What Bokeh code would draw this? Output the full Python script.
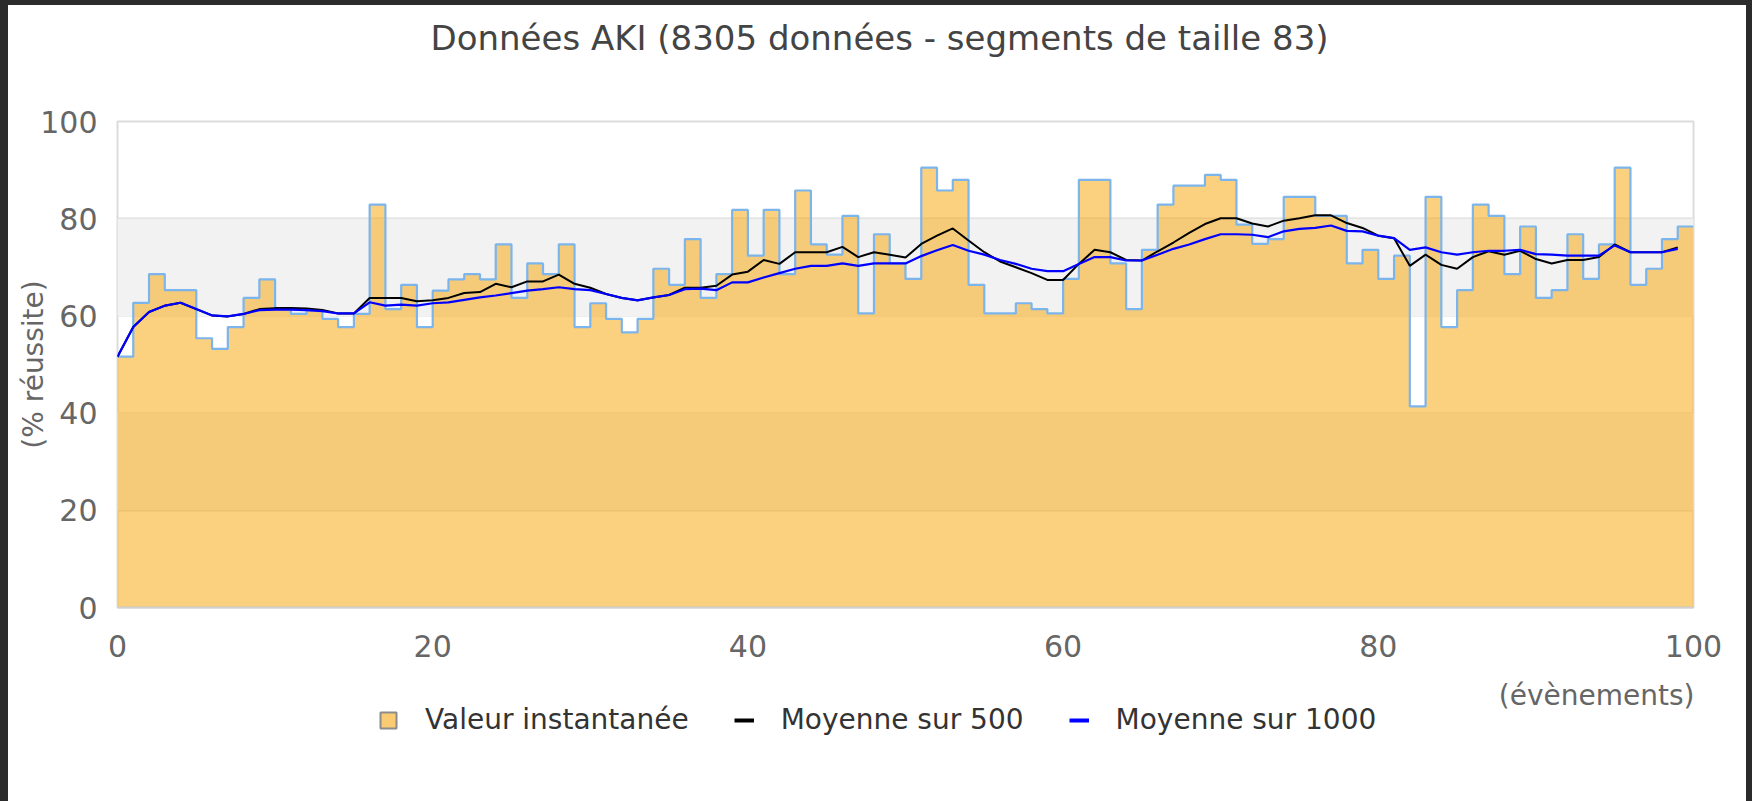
import numpy as np
from bokeh.plotting import figure
from bokeh.layouts import column
from bokeh.models import (Range1d, FixedTicker, BoxAnnotation, Legend, LegendItem, Label,
                          ColumnDataSource, Title, GlobalInlineStyleSheet)
from bokeh.embed import file_html
from bokeh.resources import INLINE

# ---------------- data ----------------
segment_values = [
    51.6, 62.7, 68.6, 65.3, 65.3, 55.4, 53.2, 57.7, 63.7, 67.5,
    61.4, 60.4, 61.2, 59.4, 57.7, 60.4, 82.9, 61.4, 66.4, 57.7,
    65.2, 67.5, 68.6, 67.5, 74.7, 63.7, 70.8, 68.6, 74.7, 57.7,
    62.6, 59.4, 56.6, 59.4, 69.7, 66.4, 75.8, 63.7, 68.6, 81.8,
    72.4, 81.8, 68.6, 85.8, 74.7, 72.6, 80.6, 60.5, 76.8, 70.8,
    67.6, 90.5, 85.8, 88.0, 66.4, 60.5, 60.5, 62.6, 61.4, 60.5,
    67.6, 88.0, 88.0, 70.8, 61.4, 73.6, 82.9, 86.8, 86.8, 89.0,
    88.0, 78.8, 74.8, 75.8, 84.5, 84.5, 80.6, 80.6, 70.8, 73.6,
    67.6, 72.4, 41.4, 84.5, 57.7, 65.3, 82.9, 80.6, 68.6, 78.4,
    63.7, 65.3, 76.8, 67.6, 74.7, 90.5, 66.4, 69.7, 75.8, 78.4,
]
moyenne_500 = [
    51.6, 57.7, 60.8, 62.1, 62.7, 61.4, 60.1, 59.9, 60.4, 61.4,
    61.6, 61.6, 61.5, 61.2, 60.5, 60.5, 63.7, 63.7, 63.7, 63.0,
    63.2, 63.7, 64.7, 64.9, 66.6, 65.9, 67.1, 67.1, 68.5, 66.6,
    65.8, 64.5, 63.7, 63.2, 63.8, 64.3, 65.8, 65.8, 66.2, 68.5,
    69.1, 71.5, 70.7, 73.1, 73.1, 73.1, 74.2, 72.1, 73.1, 72.6,
    72.0, 74.8, 76.5, 78.0, 75.5, 73.1, 71.2, 70.0, 68.8, 67.4,
    67.4, 70.7, 73.6, 73.1, 71.5, 71.4, 73.3, 75.1, 77.1, 78.9,
    80.1, 80.1, 79.0, 78.4, 79.6, 80.1, 80.7, 80.7, 79.1, 78.1,
    76.5, 76.0, 70.3, 72.6, 70.5, 69.7, 72.1, 73.3, 72.6, 73.4,
    71.7, 70.8, 71.5, 71.5, 72.1, 74.7, 73.1, 73.1, 73.1, 74.1,
]
moyenne_1000 = [
    51.6, 57.7, 60.8, 62.1, 62.7, 61.4, 60.1, 59.9, 60.4, 61.2,
    61.3, 61.3, 61.2, 61.0, 60.5, 60.5, 62.8, 62.1, 62.3, 62.1,
    62.6, 62.8, 63.3, 63.8, 64.2, 64.7, 65.2, 65.5, 65.9, 65.5,
    65.3, 64.5, 63.7, 63.2, 63.8, 64.3, 65.5, 65.6, 65.3, 66.9,
    66.9, 67.9, 68.8, 69.7, 70.3, 70.3, 70.8, 70.3, 70.8, 70.8,
    70.8, 72.3, 73.5, 74.6, 73.4, 72.6, 71.5, 70.7, 69.7, 69.2,
    69.2, 70.7, 72.1, 72.1, 71.4, 71.4, 72.6, 73.8, 74.7, 75.8,
    76.8, 76.8, 76.7, 76.2, 77.4, 77.9, 78.1, 78.6, 77.5, 77.4,
    76.5, 76.0, 73.6, 74.1, 73.1, 72.6, 73.1, 73.4, 73.4, 73.6,
    72.7, 72.6, 72.4, 72.4, 72.4, 74.5, 73.1, 73.1, 73.1, 73.8,
]
x_ticks = [0, 20, 40, 60, 80, 100]
y_ticks = [0, 20, 40, 60, 80, 100]
band_ranges = [(20, 40), (60, 80)]

title_text = "Données AKI (8305 données - segments de taille 83)"
y_label = "(% réussite)"
x_label = "(évènements)"
legend_labels = ["Valeur instantanée", "Moyenne sur 500", "Moyenne sur 1000"]

FONT = "DejaVu Sans"
FILL = "#F8A100"
FILL_ALPHA = 0.5

# step source: segment i spans [i, i+1]
n = len(segment_values)
step_x = list(range(n + 1))
step_y = segment_values + [segment_values[-1]]
step_src = ColumnDataSource(dict(x=step_x, y=step_y))
avg_x = list(range(len(moyenne_500)))

page_css = GlobalInlineStyleSheet(css="html, body { background: #2b2b2b !important; margin: 0 !important; }")

W = 1738
H1 = 666
H2 = 130

# ---------------- main chart ----------------
p = figure(width=W, height=H1, output_backend="svg", toolbar_location=None,
           x_range=Range1d(0, 100), y_range=Range1d(0, 100),
           min_border_left=109, min_border_right=53, min_border_top=116,
           min_border_bottom=64, background_fill_color="white",
           border_fill_color="white", title=None)

# spacer (closest to the frame) then the real title
p.add_layout(Title(text=" ", text_font_size="1px", standoff=56), "above")
p.add_layout(Title(text=title_text, align="left", offset=313, text_font=FONT,
                   text_font_size="34px", text_font_style="normal",
                   text_color="#444444", standoff=10), "above")

p.outline_line_color = "#dcdcdc"
p.outline_line_width = 2

for lo, hi in band_ranges:
    p.add_layout(BoxAnnotation(bottom=lo, top=hi, fill_color="#f2f2f2", fill_alpha=1.0,
                               line_color=None, level="underlay"))

p.xgrid.visible = False
p.ygrid.ticker = FixedTicker(ticks=y_ticks)
p.ygrid.grid_line_color = "#dedede"
p.ygrid.grid_line_width = 2

for ax, ticks in ((p.xaxis[0], x_ticks), (p.yaxis[0], y_ticks)):
    ax.ticker = FixedTicker(ticks=ticks)
    ax.major_tick_line_color = None
    ax.minor_tick_line_color = None
    ax.major_tick_out = 0
    ax.major_tick_in = 0
    ax.major_label_text_font = FONT
    ax.major_label_text_font_size = "30px"
    ax.major_label_text_color = "#666666"

p.xaxis.axis_line_color = "#d0d0d0"
p.xaxis.axis_line_width = 2
p.yaxis.axis_line_color = None
p.xaxis.major_label_standoff = 27
p.yaxis.major_label_standoff = 20

p.yaxis.axis_label = y_label
p.yaxis.axis_label_text_font = FONT
p.yaxis.axis_label_text_font_size = "28px"
p.yaxis.axis_label_text_font_style = "normal"
p.yaxis.axis_label_text_color = "#666666"
p.yaxis.axis_label_standoff = -13

p.varea_step(x="x", y1=0, y2="y", step_mode="after", source=step_src,
             fill_color=FILL, fill_alpha=FILL_ALPHA)
p.step(x="x", y="y", mode="after", source=step_src, line_color="#7cb5ec", line_width=2.2)
p.line(avg_x, moyenne_500, line_color="black", line_width=2)
p.line(avg_x, moyenne_1000, line_color="#0000ff", line_width=2.2)

# ---------------- legend strip (frame aligned with the chart's frame) ----------------
FRAME_W = 1576
p2 = figure(width=W, height=H2, output_backend="svg", toolbar_location=None,
            x_range=Range1d(0, FRAME_W), y_range=Range1d(0, H2),
            min_border_left=0, min_border_right=0, min_border_top=0, min_border_bottom=0,
            x_axis_type=None, y_axis_type=None, background_fill_color="white",
            border_fill_color="white", outline_line_color="white",
            outline_line_width=3, title=None)
p2.grid.visible = False

nan = float("nan")
proxy = ColumnDataSource(dict(l=[nan], r=[nan], b=[nan], t=[nan], x=[nan], y=[nan]))
r_area = p2.quad(left="l", right="r", bottom="b", top="t", source=proxy,
                 fill_color=FILL, fill_alpha=0.55, line_color="#8c8c8c", line_width=2)
r_500 = p2.line(x="x", y="y", source=proxy, line_color="black", line_width=4)
r_1000 = p2.line(x="x", y="y", source=proxy, line_color="#0000ff", line_width=4)

legend = Legend(items=[LegendItem(label=legend_labels[0], renderers=[r_area]),
                       LegendItem(label=legend_labels[1], renderers=[r_500]),
                       LegendItem(label=legend_labels[2], renderers=[r_1000])],
                orientation="horizontal", location=(261, 65),
                border_line_color=None, background_fill_alpha=0,
                padding=0, margin=0, spacing=45, label_standoff=27,
                glyph_width=20, glyph_height=20,
                label_text_font=FONT, label_text_font_size="28px",
                label_text_color="#333333")
p2.add_layout(legend)

p2.add_layout(Label(x=FRAME_W + 1, y=106, text=x_label, text_align="right",
                    text_baseline="middle", text_font=FONT,
                    text_font_size="28px", text_color="#666666"))

layout = column(p, p2, spacing=0,
                styles={"margin-left": "8px", "margin-top": "5px",
                        "background-color": "white"},
                stylesheets=[page_css])

open("out.html", "w").write(file_html(layout, INLINE))
